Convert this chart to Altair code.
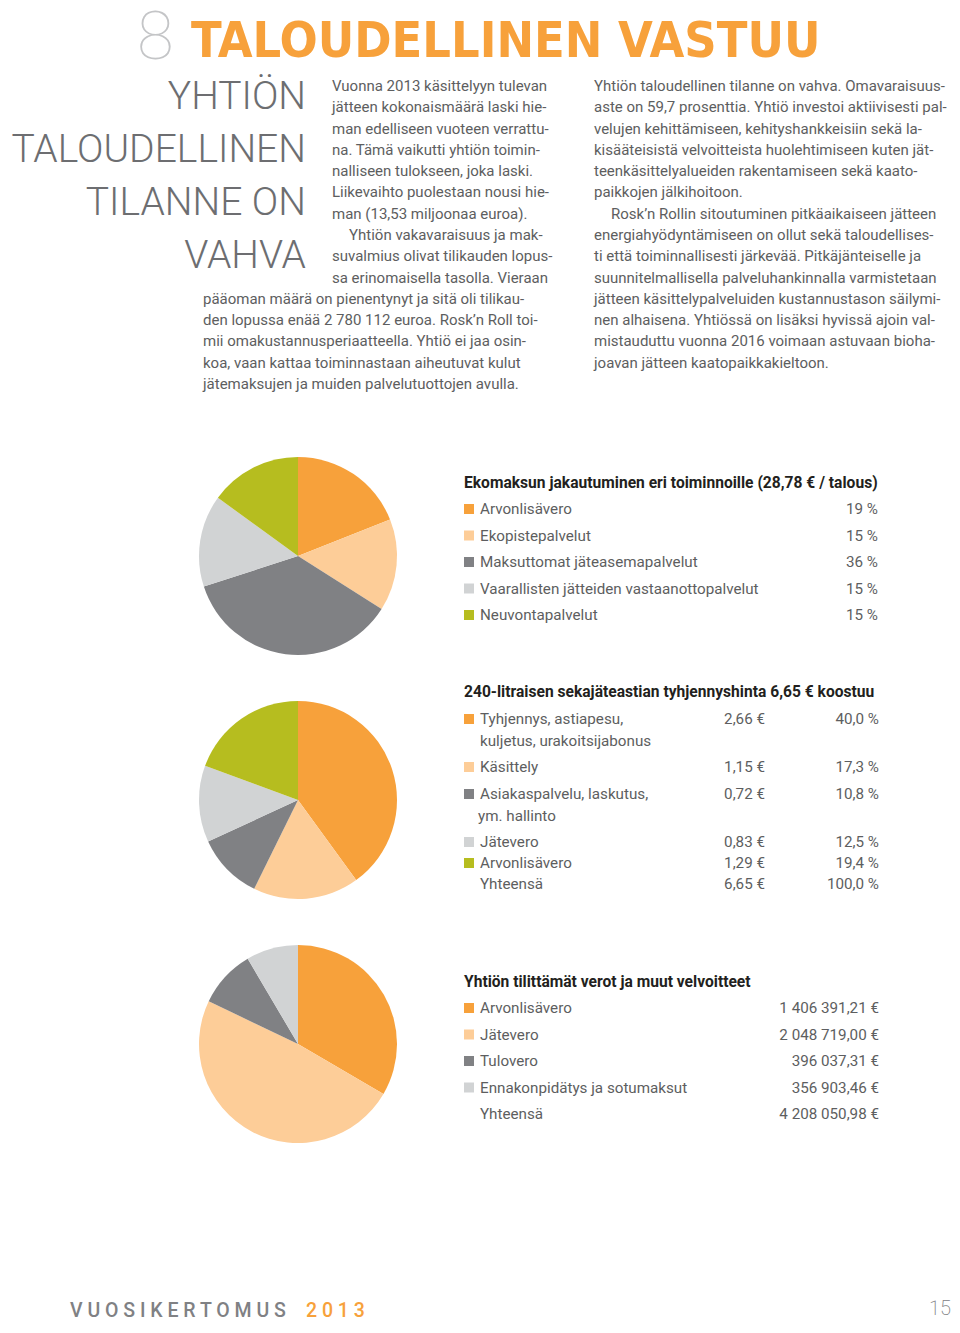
import altair as alt
import pandas as pd

# ---------------- data ----------------
chapter_number = "8"
chapter_title = "TALOUDELLINEN VASTUU"
side_heading = ["YHTIÖN", "TALOUDELLINEN", "TILANNE ON", "VAHVA"]

col1_lines = [
    "Vuonna 2013 käsittelyyn tulevan",
    "jätteen kokonaismäärä laski hie-",
    "man edelliseen vuoteen verrattu-",
    "na. Tämä vaikutti yhtiön toimin-",
    "nalliseen tulokseen, joka laski.",
    "Liikevaihto puolestaan nousi hie-",
    "man (13,53 miljoonaa euroa).",
    "Yhtiön vakavaraisuus ja mak-",
    "suvalmius olivat tilikauden lopus-",
    "sa erinomaisella tasolla. Vieraan",
    "pääoman määrä on pienentynyt ja sitä oli tilikau-",
    "den lopussa enää 2 780 112 euroa. Rosk’n Roll toi-",
    "mii omakustannusperiaatteella. Yhtiö ei jaa osin-",
    "koa, vaan kattaa toiminnastaan aiheutuvat kulut",
    "jätemaksujen ja muiden palvelutuottojen avulla.",
]
col2_lines = [
    "Yhtiön taloudellinen tilanne on vahva. Omavaraisuus-",
    "aste on 59,7 prosenttia. Yhtiö investoi aktiivisesti pal-",
    "velujen kehittämiseen, kehityshankkeisiin sekä la-",
    "kisääteisistä velvoitteista huolehtimiseen kuten jät-",
    "teenkäsittelyalueiden rakentamiseen  sekä kaato-",
    "paikkojen jälkihoitoon.",
    "Rosk’n Rollin sitoutuminen pitkäaikaiseen jätteen",
    "energiahyödyntämiseen on ollut sekä taloudellises-",
    "ti että toiminnallisesti järkevää. Pitkäjänteiselle ja",
    "suunnitelmallisella palveluhankinnalla varmistetaan",
    "jätteen käsittelypalveluiden kustannustason säilymi-",
    "nen alhaisena. Yhtiössä on lisäksi hyvissä ajoin val-",
    "mistauduttu vuonna 2016 voimaan astuvaan bioha-",
    "joavan jätteen kaatopaikkakieltoon.",
]

pie1_title = "Ekomaksun jakautuminen eri toiminnoille (28,78 € / talous)"
pie1_labels = ["Arvonlisävero", "Ekopistepalvelut", "Maksuttomat jäteasemapalvelut",
               "Vaarallisten jätteiden vastaanottopalvelut", "Neuvontapalvelut"]
pie1_values = [19, 15, 36, 15, 15]

pie2_title = "240-litraisen sekajäteastian tyhjennyshinta 6,65 € koostuu"
pie2_labels = [["Tyhjennys, astiapesu,", "kuljetus, urakoitsijabonus"], ["Käsittely"],
               ["Asiakaspalvelu, laskutus,", "ym. hallinto"], ["Jätevero"], ["Arvonlisävero"]]
pie2_euros = [2.66, 1.15, 0.72, 0.83, 1.29]
pie2_pct = [40.0, 17.3, 10.8, 12.5, 19.4]
pie2_total_label = "Yhteensä"
pie2_total_euro = 6.65
pie2_total_pct = 100.0

pie3_title = "Yhtiön tilittämät verot ja muut velvoitteet"
pie3_labels = ["Arvonlisävero", "Jätevero", "Tulovero", "Ennakonpidätys ja sotumaksut"]
pie3_values = [1406391.21, 2048719.00, 396037.31, 356903.46]
pie3_total_label = "Yhteensä"
pie3_total = 4208050.98

footer_word = "VUOSIKERTOMUS"
footer_year = "2013"
page_number = "15"

# ---------------- style ----------------
PALETTE = ["#f7a13b", "#fdcd98", "#808184", "#d1d3d4", "#b6bd1f"]
ORANGE = "#f7a13b"
TEXT = "#5d5e60"
HEAD = "#6d6e71"
FONT = "Roboto"
M = 8  # page margin; negative padding puts the chart origin at the page corner


def fi_num(v, dec=2):
    s = f"{v:,.{dec}f}"
    return s.replace(",", " ").replace(".", ",")


def tchart(rows, **mark):
    df = pd.DataFrame(rows, columns=["x", "y", "text"])
    mark.setdefault("baseline", "alphabetic")
    return alt.Chart(df).mark_text(**mark).encode(
        x=alt.X("x:Q", scale=None, axis=None),
        y=alt.Y("y:Q", scale=None, axis=None),
        text="text:N",
    )


color_scale = alt.Scale(domain=list(range(5)), range=PALETTE)


def pie(values, cx, cy, r=99):
    df = pd.DataFrame({"v": values, "slot": list(range(len(values)))})
    return alt.Chart(df).mark_arc(outerRadius=r).encode(
        theta=alt.Theta("v:Q", stack=True),
        color=alt.Color("slot:O", scale=color_scale, legend=None),
        order=alt.Order("slot:Q"),
        x=alt.value(cx),
        y=alt.value(cy),
    )


def squares(rows):
    df = pd.DataFrame(rows, columns=["x", "y", "slot"])
    return alt.Chart(df).mark_square(size=100, filled=True, opacity=1).encode(
        x=alt.X("x:Q", scale=None, axis=None),
        y=alt.Y("y:Q", scale=None, axis=None),
        color=alt.Color("slot:O", scale=color_scale, legend=None),
    )


layers = []

# header
layers.append(tchart([(137, 59, chapter_number)], font=FONT, fontWeight=100, fontSize=67,
                     color="#c4c5c7", align="left"))
layers.append(tchart([(191, 57, chapter_title)], font="Liberation Sans Narrow, DejaVu Sans Condensed",
                     fontWeight="bold", fontSize=50, color=ORANGE, align="left"))
layers.append(tchart([(306, 109 + i * 53, t) for i, t in enumerate(side_heading)], font=FONT,
                     fontWeight=300, fontSize=39, color=HEAD, align="right"))

# body text
LH = 21.29
body = []
for i, t in enumerate(col1_lines):
    x = 332 if i < 10 else 203
    if i == 7:
        x = 349
    body.append((x, 91 + i * LH, t))
for i, t in enumerate(col2_lines):
    x = 611 if i == 6 else 594
    body.append((x, 91 + i * LH, t))
layers.append(tchart(body, font=FONT, fontWeight=400, fontSize=15, color=TEXT, align="left"))

# legend tables
LX, SQX = 480, 469
titles = [(464, 488, pie1_title), (464, 697, pie2_title), (464, 987, pie3_title)]
layers.append(tchart(titles, font=FONT, fontWeight="bold", fontSize=15.6, color="#231f20", align="left"))

left_rows, right_rows, sq_rows = [], [], []
# table 1
for i, (lab, v) in enumerate(zip(pie1_labels, pie1_values)):
    y = 509 + i * 26.5
    left_rows.append((LX, y, lab))
    right_rows.append((878, y, f"{v} %"))
    sq_rows.append((SQX, y, i))
# table 2
t2_y = [719, 767, 794, 842, 863]
for i, (labs, e, p) in enumerate(zip(pie2_labels, pie2_euros, pie2_pct)):
    y = t2_y[i]
    for j, lab in enumerate(labs):
        left_rows.append((LX - (2 if j else 0) * (i == 2), y + j * 22, lab))
    right_rows.append((765, y, fi_num(e) + " €"))
    right_rows.append((879, y, fi_num(p, 1) + " %"))
    sq_rows.append((SQX, y, i))
left_rows.append((LX, 884, pie2_total_label))
right_rows.append((765, 884, fi_num(pie2_total_euro) + " €"))
right_rows.append((879, 884, fi_num(pie2_total_pct, 1) + " %"))
# table 3
for i, (lab, v) in enumerate(zip(pie3_labels, pie3_values)):
    y = 1008 + i * 26.5
    left_rows.append((LX, y, lab))
    right_rows.append((879, y, fi_num(v) + " €"))
    sq_rows.append((SQX, y, i))
left_rows.append((LX, 1114, pie3_total_label))
right_rows.append((879, 1114, fi_num(pie3_total) + " €"))

layers.append(tchart(left_rows, font=FONT, fontWeight=400, fontSize=15.2, color=TEXT,
                     align="left", baseline="middle"))
layers.append(tchart(right_rows, font=FONT, fontWeight=400, fontSize=15.2, color=TEXT,
                     align="right", baseline="middle"))
layers.append(squares(sq_rows))

# pies
layers.append(pie(pie1_values, 298, 556))
layers.append(pie(pie2_euros, 298, 800))
layers.append(pie(pie3_values, 298, 1044))

# footer
layers.append(tchart([(70, 1317, " ".join(footer_word))], font=FONT, fontWeight=500,
                     fontSize=19.5, color="#808184", align="left"))
layers.append(tchart([(306, 1317, " ".join(footer_year))], font=FONT, fontWeight=500,
                     fontSize=19.5, color=ORANGE, align="left"))
layers.append(tchart([(951, 1315, page_number)], font=FONT, fontWeight=200,
                     fontSize=20, color="#808184", align="right"))

chart = alt.layer(*layers).resolve_scale(theta="independent").properties(
    width=952, height=1321, autosize=alt.AutoSizeParams(type="none"),
    padding={"left": -M, "top": -M, "right": 0, "bottom": 0},
    background="white",
).configure_view(stroke=None)

chart.save("out.html", embed_options={"renderer": "svg", "actions": False})
